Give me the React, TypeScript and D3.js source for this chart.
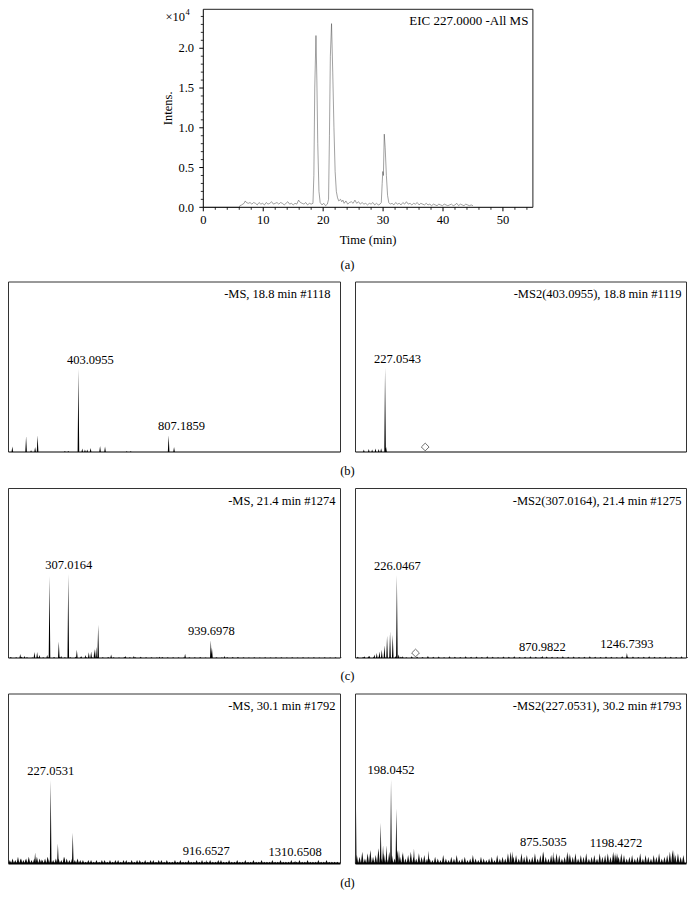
import * as d3 from "d3";

const FONT = "'Liberation Serif', 'Times New Roman', serif";

// ---- (a) EIC 227.0000, time in min, intensity in units of 1e4
const eicTrace: [number, number][] = [
  [0, 0], [6, 0], [6.1, 0.02], [6.4, 0.03], [6.8, 0.05], [7.0, 0.08], [7.2, 0.06], [7.5, 0.05],
  [7.8, 0.06], [8.1, 0.04], [8.4, 0.06], [8.7, 0.05], [9.0, 0.03], [9.3, 0.06], [9.6, 0.04],
  [9.9, 0.05], [10.2, 0.03], [10.5, 0.06], [10.8, 0.04], [11.1, 0.05], [11.4, 0.07], [11.7, 0.04],
  [12.0, 0.05], [12.3, 0.06], [12.6, 0.04], [12.9, 0.06], [13.2, 0.05], [13.5, 0.03], [13.8, 0.05],
  [14.1, 0.07], [14.4, 0.04], [14.7, 0.05], [15.0, 0.03], [15.3, 0.05], [15.6, 0.04], [15.9, 0.09],
  [16.2, 0.06], [16.5, 0.05], [16.8, 0.04], [17.1, 0.06], [17.4, 0.03], [17.7, 0.05], [18.0, 0.04],
  [18.3, 0.05], [18.45, 0.4], [18.6, 1.5], [18.8, 2.16], [18.95, 1.6], [19.1, 0.8], [19.3, 0.2],
  [19.5, 0.06], [19.8, 0.03], [20.1, 0.05], [20.4, 0.02], [20.7, 0.04], [20.9, 0.1], [21.05, 0.9],
  [21.2, 1.9], [21.4, 2.31], [21.6, 1.7], [21.8, 1.0], [22.0, 0.45], [22.2, 0.2], [22.4, 0.12],
  [22.6, 0.08], [22.9, 0.1], [23.1, 0.07], [23.3, 0.09], [23.5, 0.05], [23.8, 0.08], [24.1, 0.04],
  [24.4, 0.06], [24.7, 0.07], [25.0, 0.05], [25.3, 0.09], [25.6, 0.05], [25.9, 0.07], [26.2, 0.04],
  [26.5, 0.06], [26.8, 0.04], [27.1, 0.05], [27.4, 0.03], [27.7, 0.05], [28.0, 0.04], [28.3, 0.06],
  [28.6, 0.03], [28.9, 0.05], [29.2, 0.03], [29.5, 0.04], [29.7, 0.06], [29.85, 0.3], [29.95, 0.45],
  [30.05, 0.4], [30.2, 0.92], [30.35, 0.75], [30.55, 0.4], [30.75, 0.15], [30.95, 0.06], [31.2, 0.04],
  [31.5, 0.05], [31.8, 0.03], [32.1, 0.06], [32.4, 0.04], [32.7, 0.05], [33.0, 0.03], [33.3, 0.06],
  [33.6, 0.04], [33.9, 0.07], [34.2, 0.04], [34.5, 0.05], [34.8, 0.03], [35.1, 0.05], [35.4, 0.04],
  [35.7, 0.06], [36.0, 0.03], [36.3, 0.05], [36.6, 0.04], [36.9, 0.03], [37.2, 0.05], [37.5, 0.03],
  [37.8, 0.04], [38.1, 0.02], [38.4, 0.04], [38.7, 0.03], [39.0, 0.02], [39.3, 0.04], [39.6, 0.03],
  [39.9, 0.02], [40.2, 0.04], [40.5, 0.03], [40.8, 0.02], [41.1, 0.03], [41.4, 0.04], [41.7, 0.02],
  [42.0, 0.03], [42.3, 0.05], [42.6, 0.02], [42.9, 0.04], [43.2, 0.03], [43.5, 0.02], [43.8, 0.04],
  [44.1, 0.03], [44.4, 0.02], [44.7, 0.03], [45.0, 0.02],
];
const eicXTicks = [0, 10, 20, 30, 40, 50];
const eicYTicks = [0, 0.5, 1.0, 1.5, 2.0];

// ---- spectra: [m/z, intensity in % of panel height]
const MZ_DOMAIN: [number, number] = [40, 1512];

const msB1Peaks: [number, number][] = [
  [57, 3.3], [118, 9.2], [140, 1.0], [158, 2.9], [169, 9.8], [290, 0.6], [305, 0.6], [350, 49],
  [367, 2], [379, 1.5], [389, 1.5], [404, 2.4], [446, 3.5], [468, 3.3], [564, 0.5], [582, 0.5],
  [750, 9.8], [774, 2.9],
];
const msB1Labels = [
  { text: "403.0955", mz: 403.0955, at: 49 },
  { text: "807.1859", mz: 807.1859, at: 9.8 },
];

const msB2Peaks: [number, number][] = [
  [77, 1.5], [99, 1.8], [114, 1.5], [129, 2], [143, 1.8], [154, 2.2], [171.5, 49.6], [176, 3],
];
const msB2Labels = [{ text: "227.0543", mz: 227.0543, at: 49.6 }];

const msC1Peaks: [number, number][] = [
  [92, 2.4], [111, 1.2], [155, 3.5], [167, 3.5], [177.5, 1.8], [211.5, 1.8], [221.8, 48.4],
  [263, 9.8], [273.5, 1.2], [305, 49.6], [343, 4.9], [362, 1.2], [381, 1.8], [396, 3.4],
  [406.5, 3.9], [421, 5.3], [428.7, 6.5], [437.6, 19.6], [495, 2], [559, 1.2], [595.7, 1.2],
  [709.5, 0.8], [823, 2.5], [937, 10.4], [942, 6], [997.7, 1.2], [1057, 0.6],
];
const msC1Labels = [
  { text: "307.0164", mz: 307.0164, at: 49.6 },
  { text: "939.6978", mz: 939.6978, at: 10.4 },
];
const msC1Noise = [
  0.6, 0.4, 0.8, 0.5, 0.3, 0.7, 0.5, 0.4, 0.6, 0.8, 0.5, 0.4, 0.7, 0.6, 0.4, 0.5, 0.8, 0.4, 0.6, 0.5,
  0.3, 0.6, 0.4, 0.5, 0.7, 0.4, 0.5, 0.3, 0.6, 0.4, 0.5, 0.4, 0.3, 0.5, 0.4, 0.6, 0.3, 0.4, 0.5, 0.3,
  0.4, 0.6, 0.3, 0.4, 0.3, 0.5, 0.3, 0.4, 0.3, 0.5, 0.4, 0.3, 0.4, 0.3, 0.5, 0.3, 0.4, 0.3, 0.4, 0.3,
  0.4, 0.3,
];

const msC2Peaks: [number, number][] = [
  [80, 1], [102, 1.4], [124, 2], [134.6, 2.9], [146.4, 3.9], [156.8, 4.9], [168.6, 7.5],
  [180.4, 13.2], [193.7, 15.7], [205.6, 13.7], [224, 49], [232, 2], [250, 1], [871, 1.2], [1247, 3],
];
const msC2Labels = [
  { text: "226.0467", mz: 226.0467, at: 49 },
  { text: "870.9822", mz: 870.9822, at: 1.2 },
  { text: "1246.7393", mz: 1246.7393, at: 3 },
];
const msC2Noise = [
  0.8, 0.6, 1.0, 0.7, 1.2, 0.6, 0.9, 1.1, 0.7, 0.5, 1.0, 0.8, 0.6, 1.2, 0.7, 0.9, 0.5, 1.0, 0.8, 0.6,
  1.1, 0.7, 0.9, 0.6, 1.0, 0.8, 0.5, 0.9, 0.7, 1.1, 0.6, 0.8, 1.0, 0.7, 0.5, 0.9, 0.8, 0.6, 1.0, 0.7,
  0.9, 0.6, 0.8, 1.1, 0.7, 0.6, 0.9, 0.8, 0.5, 1.0, 0.7, 0.9, 0.6, 0.8, 1.0, 0.7, 0.6, 0.9, 0.8, 0.6,
  1.0, 0.7,
];

const msD1Peaks: [number, number][] = [
  [96, 3], [115, 2.5], [130, 2.5], [158, 6.5], [185, 2.5], [214, 3.9], [227, 49.2], [259, 11.8],
  [288, 4], [325, 18.1], [916.7, 2.1], [1310.7, 1.6],
];
const msD1Labels = [
  { text: "227.0531", mz: 227.0531, at: 49.2 },
  { text: "916.6527", mz: 916.6527, at: 2.1 },
  { text: "1310.6508", mz: 1310.6508, at: 1.6 },
];
const msD1Noise = [
  2, 3, 2, 4, 3, 2, 3, 4, 2, 3, 4, 3, 2, 3, 4, 3, 2, 3, 3, 2, 4, 3, 2, 3, 2, 3, 2,
  2, 1, 2, 2, 1, 2, 1, 2, 2, 1, 2, 1, 2, 2, 1, 2, 2, 1, 2, 1, 2, 2, 1, 2, 1, 2, 2, 1, 2, 2,
  1, 2, 1, 1, 2, 1, 2, 1, 1, 2, 1, 1, 2, 1, 2, 1, 1, 2, 1, 1, 2, 2, 1, 1, 2, 1, 1, 2, 1, 1, 2, 1,
  1, 2, 1, 1, 2, 1, 1, 1, 2, 1, 1, 2, 1, 1, 1, 2, 1, 1, 2, 1, 1, 2, 1, 1, 1, 2, 1, 1, 2, 1, 1, 1, 1,
];

const msD2Peaks: [number, number][] = [
  [41, 50], [152, 24], [162.5, 10.7], [177.5, 10.7], [198, 49.6], [221.6, 32.5], [233.4, 7.9],
  [251, 6.9], [300, 8.9], [365, 7.5], [739, 7.3], [875.5, 7.3], [919, 7], [990, 6], [1190, 5.5],
  [1198.4, 6.5], [1206, 6], [1456, 7.9],
];
const msD2Labels = [
  { text: "198.0452", mz: 198.0452, at: 49.6 },
  { text: "875.5035", mz: 875.5035, at: 7.3 },
  { text: "1198.4272", mz: 1198.4272, at: 6.5 },
];
const msD2Noise = [
  5, 4, 7, 3, 6, 8, 4, 5, 9, 3, 6, 4, 7, 5, 3, 8, 4, 6, 3, 5, 7, 4, 3, 6, 4, 5, 3,
  3, 2, 4, 3, 2, 5, 3, 2, 4, 3, 5, 2, 3, 4, 2, 3, 5, 3, 2, 4, 3, 2, 3, 4, 2, 5, 3, 4, 3, 6,
  7, 4, 5, 3, 6, 4, 5, 3, 4, 6, 3, 5, 7, 4, 3, 5, 4, 6, 5, 3, 4, 7, 5, 4, 6, 3, 5, 4, 6, 3, 4, 5,
  3, 6, 4, 5, 6, 4, 7, 5, 4, 6, 5, 3, 4, 5, 3, 4, 6, 3, 5, 4, 3, 5, 4, 6, 3, 4, 5, 7, 8, 5, 6, 4, 5,
];

const panelLetters = ["(a)", "(b)", "(c)", "(d)"];

// ---- layout
const COLS = [[8.5, 340.5], [355.5, 686.5]];
const ROWS = [[282, 452], [488.5, 658], [694, 863.5]];

type Label = { text: string; mz: number; at: number };
type SpecProps = {
  col: number; row: number; title: string; titleInset?: number;
  peaks: [number, number][]; labels: Label[];
  noise?: number[]; noiseStart?: number; noiseStep?: number; noiseWidth?: number;
  precursor?: number; floor?: number;
};

function Spectrum(p: SpecProps) {
  const [x0, x1] = COLS[p.col];
  const [y0, y1] = ROWS[p.row];
  const x = d3.scaleLinear().domain(MZ_DOMAIN).range([x0, x1]);
  const y = d3.scaleLinear().domain([0, 100]).range([y1, y0]);
  const spike = (mz: number, h: number, hw: number) =>
    `M${x(mz) - hw},${y(0)}L${x(mz)},${y(h)}L${x(mz) + hw},${y(0)}Z`;
  const noisePath = (p.noise || [])
    .map((h, i) => spike((p.noiseStart ?? 46) + i * (p.noiseStep ?? 12), h, p.noiseWidth ?? 1.1))
    .join("");
  const diamond = d3.symbol().type(d3.symbolSquare).size(30)();
  return (
    <g>
      <path d={noisePath} fill="#111" />
      <path d={p.peaks.map(([m, h]) => spike(m, h, 0.8)).join("")} fill="#000" />
      <path
        d={`M${x0},${y1}V${y0}H${x1}V${y1}`}
        fill="none" stroke="#333" strokeWidth={1}
      />
      <line x1={x0} x2={x1} y1={y1} y2={y1} stroke="#000" strokeWidth={p.floor ?? 1.2} />
      {p.precursor !== undefined && (
        <path
          d={diamond!}
          transform={`translate(${x(p.precursor)},${y1 - 5}) rotate(45)`}
          fill="#fff" stroke="#555" strokeWidth={0.8}
        />
      )}
      {p.labels.map((l) => (
        <text key={l.text} x={x(l.mz)} y={y(l.at) - 5} textAnchor="middle" fontSize={12.5}>
          {l.text}
        </text>
      ))}
      <text x={x1 - (p.titleInset ?? 5)} y={y0 + 16} textAnchor="end" fontSize={12.5}>
        {p.title}
      </text>
    </g>
  );
}

function Chromatogram() {
  const x = d3.scaleLinear().domain([0, 55]).range([203.3, 532.9]);
  const y = d3.scaleLinear().domain([0, 2.49]).range([207.3, 9.3]);
  const line = d3.line<[number, number]>().x((d) => x(d[0])).y((d) => y(d[1]));
  const xMinor = d3.range(0, 55, 2).filter((t) => t % 10 !== 0);
  const yMinor = d3.range(0, 2.45, 0.1).filter((v) => Math.abs(v * 2 - Math.round(v * 2)) > 1e-6);
  const [X0, X1] = x.range();
  const [Y0, Y1] = y.range();
  return (
    <g>
      <path d={`M${X0},${Y1}H${X1}V${Y0}`} fill="none" stroke="#222" strokeWidth={1} />
      <path d={line(eicTrace)!} fill="none" stroke="#444" strokeWidth={0.5} />
      <line x1={X0} x2={X1} y1={Y0} y2={Y0} stroke="#000" strokeWidth={1} />
      <line x1={X0} x2={X0} y1={Y0} y2={Y1} stroke="#000" strokeWidth={1} />
      {eicXTicks.map((t) => (
        <g key={t}>
          <line x1={x(t)} x2={x(t)} y1={Y0} y2={Y0 + 4} stroke="#000" />
          <text x={x(t)} y={224} textAnchor="middle" fontSize={12.5}>{t}</text>
        </g>
      ))}
      {xMinor.map((t) => (
        <line key={t} x1={x(t)} x2={x(t)} y1={Y0} y2={Y0 + 2.5} stroke="#000" strokeWidth={0.8} />
      ))}
      {eicYTicks.map((v) => (
        <g key={v}>
          <line x1={X0 - 4} x2={X0} y1={y(v)} y2={y(v)} stroke="#000" />
          <text x={194} y={y(v) + 4.2} textAnchor="end" fontSize={12.5}>{v.toFixed(1)}</text>
        </g>
      ))}
      {yMinor.map((v) => (
        <line key={v} x1={X0 - 2.5} x2={X0} y1={y(v)} y2={y(v)} stroke="#000" strokeWidth={0.8} />
      ))}
      <text x={185} y={20.5} textAnchor="end" fontSize={12.5}>×10</text>
      <text x={185.5} y={15} fontSize={8.5}>4</text>
      <text transform={`translate(171.5,${(Y0 + Y1) / 2}) rotate(-90)`} textAnchor="middle" fontSize={12.5}>
        Intens.
      </text>
      <text x={(X0 + X1) / 2} y={243.5} textAnchor="middle" fontSize={12.5}>Time (min)</text>
      <text x={X1 - 4.5} y={25} textAnchor="end" fontSize={13}>EIC 227.0000 -All MS</text>
    </g>
  );
}

export default function App() {
  const letterY = [268.5, 475, 680, 887];
  return (
    <svg
      width={695} height={909}
      style={{ position: "absolute", left: 0, top: 0, background: "#fff" }}
      fontFamily={FONT} fill="#000"
    >
      <Chromatogram />
      <Spectrum col={0} row={0} title="-MS, 18.8 min #1118" titleInset={10} peaks={msB1Peaks} labels={msB1Labels} />
      <Spectrum col={1} row={0} title="-MS2(403.0955), 18.8 min #1119" peaks={msB2Peaks} labels={msB2Labels} precursor={350} />
      <Spectrum col={0} row={1} title="-MS, 21.4 min #1274" peaks={msC1Peaks} labels={msC1Labels}
        noise={msC1Noise} noiseStart={50} noiseStep={24} />
      <Spectrum col={1} row={1} title="-MS2(307.0164), 21.4 min #1275" peaks={msC2Peaks} labels={msC2Labels}
        noise={msC2Noise} noiseStart={50} noiseStep={24} precursor={307.0164} />
      <Spectrum col={0} row={2} title="-MS, 30.1 min #1792" peaks={msD1Peaks} labels={msD1Labels}
        noise={msD1Noise} noiseWidth={1.4} floor={1.8} />
      <Spectrum col={1} row={2} title="-MS2(227.0531), 30.2 min #1793" peaks={msD2Peaks} labels={msD2Labels}
        noise={msD2Noise} noiseWidth={1.4} floor={2} />
      {panelLetters.map((l, i) => (
        <text key={l} x={347.5} y={letterY[i]} textAnchor="middle" fontSize={12.5}>{l}</text>
      ))}
    </svg>
  );
}
